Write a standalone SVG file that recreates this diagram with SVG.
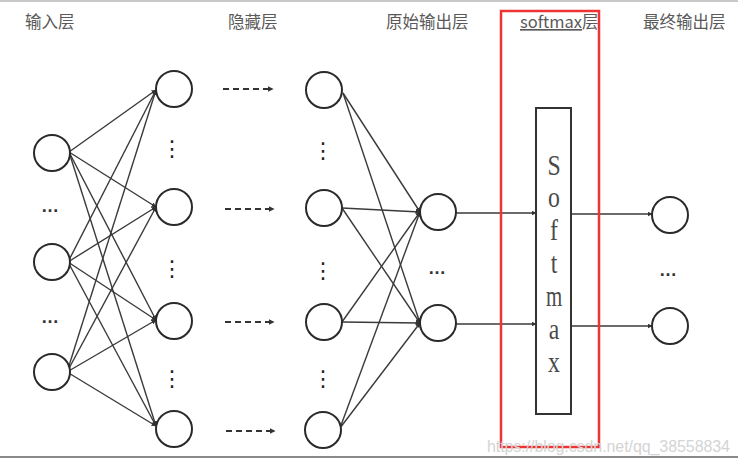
<svg xmlns="http://www.w3.org/2000/svg" width="738" height="465" viewBox="0 0 738 465">
<defs>
<style>
.hd{font-family:"Noto Sans CJK SC","Liberation Sans",sans-serif;font-size:16.5px;fill:#5a5a5a}
.nd{fill:#fff;stroke:#2a2a2a;stroke-width:2}
.ar{stroke:#3a3a3a;stroke-width:1.4;fill:none;marker-end:url(#ah)}
.da{stroke:#333;stroke-width:2;stroke-dasharray:6,4;fill:none;marker-end:url(#ah2)}
.vd{font-family:"DejaVu Sans",sans-serif;font-size:22px;fill:#222;text-anchor:middle}
.hdots{font-family:"Liberation Sans",sans-serif;font-size:18px;fill:#333;text-anchor:middle;font-weight:bold}
.sm{font-family:"Liberation Serif",serif;font-size:29px;fill:#4a4a4a;text-anchor:middle}
</style>
<marker id="ah" viewBox="0 0 10 10" refX="9" refY="5" markerWidth="5" markerHeight="5" orient="auto" markerUnits="userSpaceOnUse"><path d="M0,0 L10,5 L0,10 z" fill="#333"/></marker>
<marker id="ah2" viewBox="0 0 10 10" refX="9" refY="5" markerWidth="6" markerHeight="6" orient="auto" markerUnits="userSpaceOnUse"><path d="M0,0 L10,5 L0,10 z" fill="#333"/></marker>
</defs>
<rect width="738" height="465" fill="#fff"/>
<line x1="0" y1="1" x2="738" y2="1" stroke="#c8c8c8" stroke-width="2"/>
<line x1="0" y1="457" x2="738" y2="457" stroke="#8a8a8a" stroke-width="2"/>

<g id="headers">
<text class="hd" x="25" y="28">输入层</text>
<text class="hd" x="228" y="28">隐藏层</text>
<text class="hd" x="386" y="28">原始输出层</text>
<text class="hd" x="520" y="28"><tspan text-decoration="underline">softmax</tspan>层</text>
<text class="hd" x="643" y="28">最终输出层</text>
</g>

<g id="connectors">
<line class="ar" x1="69" y1="152" x2="156" y2="90"/>
<line class="ar" x1="69" y1="152" x2="156" y2="207"/>
<line class="ar" x1="69" y1="152" x2="156" y2="320"/>
<line class="ar" x1="69" y1="152" x2="156" y2="426"/>
<line class="ar" x1="68" y1="262" x2="156" y2="90"/>
<line class="ar" x1="68" y1="262" x2="156" y2="207"/>
<line class="ar" x1="68" y1="262" x2="156" y2="320"/>
<line class="ar" x1="68" y1="262" x2="156" y2="426"/>
<line class="ar" x1="67" y1="372" x2="156" y2="90"/>
<line class="ar" x1="67" y1="372" x2="156" y2="207"/>
<line class="ar" x1="67" y1="372" x2="156" y2="320"/>
<line class="ar" x1="67" y1="372" x2="156" y2="426"/>
<line class="da" x1="223" y1="89" x2="273" y2="89"/>
<line class="da" x1="225" y1="209" x2="274" y2="209"/>
<line class="da" x1="225" y1="322" x2="274" y2="322"/>
<line class="da" x1="226" y1="431" x2="275" y2="431"/>
<line class="ar" x1="343" y1="93" x2="420" y2="212"/>
<line class="ar" x1="343" y1="93" x2="420" y2="323"/>
<line class="ar" x1="342" y1="208" x2="420" y2="212"/>
<line class="ar" x1="342" y1="208" x2="420" y2="323"/>
<line class="ar" x1="342" y1="322" x2="420" y2="212"/>
<line class="ar" x1="342" y1="322" x2="420" y2="323"/>
<line class="ar" x1="340" y1="428" x2="420" y2="212"/>
<line class="ar" x1="340" y1="428" x2="420" y2="323"/>
<line class="ar" x1="456" y1="213" x2="536" y2="213"/>
<line class="ar" x1="456" y1="324" x2="536" y2="324"/>
<line class="ar" x1="571" y1="214" x2="652" y2="214"/>
<line class="ar" x1="571" y1="326" x2="652" y2="326"/>
</g>

<g id="input-layer">
<circle class="nd" cx="52" cy="153" r="18"/>
<circle class="nd" cx="52" cy="262" r="18"/>
<circle class="nd" cx="52" cy="372" r="18"/>
<text class="hdots" x="50" y="212">…</text>
<text class="hdots" x="50" y="323">…</text>
</g>

<g id="hidden-layer-1">
<circle class="nd" cx="174" cy="89" r="18"/>
<circle class="nd" cx="174" cy="207" r="18"/>
<circle class="nd" cx="174" cy="321" r="18"/>
<circle class="nd" cx="174" cy="429" r="18"/>
<text class="vd" x="172" y="156">⋮</text>
<text class="vd" x="172" y="276">⋮</text>
<text class="vd" x="172" y="386">⋮</text>
</g>

<g id="hidden-layer-2">
<circle class="nd" cx="324" cy="90" r="18"/>
<circle class="nd" cx="324" cy="208" r="18"/>
<circle class="nd" cx="324" cy="322" r="18"/>
<circle class="nd" cx="323" cy="430" r="18"/>
<text class="vd" x="323" y="158">⋮</text>
<text class="vd" x="323" y="278">⋮</text>
<text class="vd" x="323" y="386">⋮</text>
</g>

<g id="raw-output-layer">
<circle class="nd" cx="438" cy="212" r="18"/>
<circle class="nd" cx="438" cy="323" r="18"/>
<text class="hdots" x="437" y="274">…</text>
</g>

<g id="softmax">
<rect x="536" y="108" width="35" height="306" fill="#fff" stroke="#333" stroke-width="2"/>
<text class="sm" transform="translate(554,175) scale(0.82,1)">S</text>
<text class="sm" transform="translate(554,207) scale(0.82,1)">o</text>
<text class="sm" transform="translate(554,240) scale(0.82,1)">f</text>
<text class="sm" transform="translate(554,273) scale(0.82,1)">t</text>
<text class="sm" transform="translate(554,306) scale(0.72,1)">m</text>
<text class="sm" transform="translate(554,339) scale(0.82,1)">a</text>
<text class="sm" transform="translate(554,372) scale(0.82,1)">x</text>
</g>

<g id="final-output-layer">
<circle class="nd" cx="670" cy="215" r="18"/>
<circle class="nd" cx="670" cy="326" r="18"/>
<text class="hdots" x="668" y="276">…</text>
</g>

<g id="highlight">
<rect x="501" y="11" width="98" height="436" fill="none" stroke="#ee3333" stroke-width="2.5"/>
</g>

<text x="487" y="452" font-family="Liberation Sans,sans-serif" font-size="16" fill="#d4d4d4" textLength="243">https://blog.csdn.net/qq_38558834</text>
</svg>
